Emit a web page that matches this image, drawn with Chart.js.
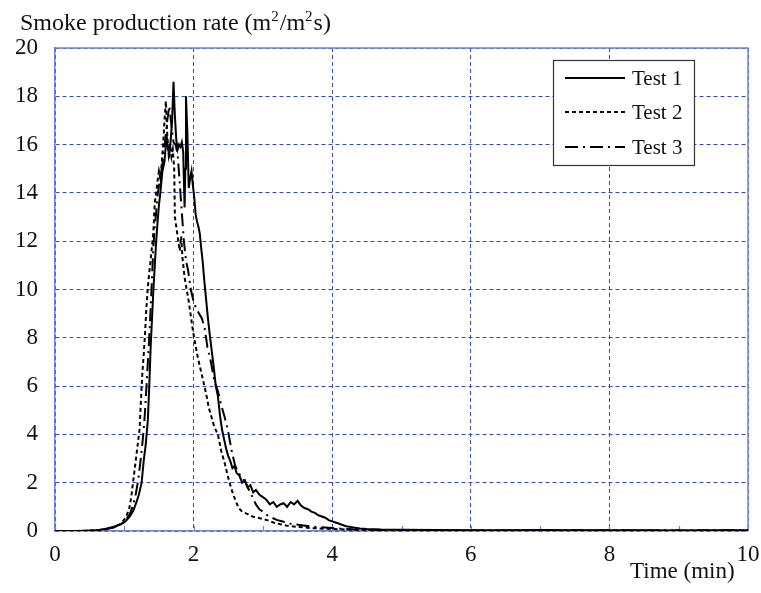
<!DOCTYPE html>
<html>
<head>
<meta charset="utf-8">
<script src="https://cdn.jsdelivr.net/npm/chart.js@4"></script>
<style>
  body { margin: 0; background: #fff; }
</style>
</head>
<body>
<canvas id="smokeChart" width="761" height="593"></canvas>
<script>
// [time (min), smoke production rate (m2/m2s)]
const test1 = [
  [0, 0], [0.3, 0], [0.55, 0.02], [0.65, 0.05], [0.75, 0.1], [0.85, 0.18], [0.95, 0.28],
  [1.02, 0.4], [1.08, 0.6], [1.13, 0.85], [1.17, 1.15], [1.21, 1.5], [1.25, 2.0], [1.28, 2.9],
  [1.31, 3.6], [1.34, 4.6], [1.36, 6.0], [1.38, 7.6], [1.40, 8.8], [1.42, 10.0], [1.44, 11.0],
  [1.46, 12.0], [1.48, 12.8], [1.50, 13.5], [1.52, 14.0], [1.55, 14.9], [1.58, 15.3], [1.61, 16.4],
  [1.63, 15.8], [1.65, 15.6], [1.67, 16.2], [1.69, 17.0], [1.71, 18.6], [1.73, 17.2], [1.75, 16.2],
  [1.77, 15.8], [1.79, 16.0], [1.81, 15.9], [1.83, 16.1], [1.85, 15.7], [1.87, 13.4], [1.88, 15.0],
  [1.89, 18.0], [1.91, 16.5], [1.93, 14.2], [1.95, 14.6], [1.97, 14.9], [1.99, 14.3], [2.01, 13.8],
  [2.03, 13.1], [2.05, 12.8], [2.07, 12.6], [2.09, 12.3], [2.11, 11.7], [2.13, 11.2], [2.15, 10.5],
  [2.17, 9.9], [2.20, 9.0], [2.23, 8.2], [2.26, 7.5], [2.29, 6.8], [2.32, 6.0], [2.35, 5.6],
  [2.38, 4.8], [2.41, 4.2], [2.44, 3.8], [2.47, 3.4], [2.50, 3.1], [2.53, 2.9], [2.56, 2.6],
  [2.59, 2.7], [2.62, 2.4], [2.66, 2.3], [2.70, 2.0], [2.74, 2.1], [2.78, 1.8], [2.82, 1.9],
  [2.86, 1.6], [2.90, 1.7], [2.95, 1.5], [3.00, 1.4], [3.05, 1.3], [3.10, 1.1], [3.15, 1.2],
  [3.20, 1.0], [3.25, 1.1], [3.30, 1.15], [3.35, 1.0], [3.40, 1.2], [3.45, 1.1], [3.50, 1.25],
  [3.55, 1.05], [3.60, 0.95], [3.65, 0.9], [3.70, 0.8], [3.75, 0.75], [3.80, 0.65], [3.85, 0.6],
  [3.90, 0.55], [3.95, 0.45], [4.00, 0.4], [4.05, 0.35], [4.10, 0.3], [4.15, 0.25], [4.20, 0.2],
  [4.30, 0.15], [4.40, 0.1], [4.50, 0.08], [4.70, 0.06], [5.0, 0.05], [5.5, 0.04], [6.0, 0.03],
  [6.5, 0.03], [7.0, 0.04], [7.5, 0.03], [8.0, 0.03], [8.5, 0.03], [9.0, 0.02], [9.5, 0.03], [10, 0.03]
];

const test2 = [
  [0, 0], [0.4, 0], [0.6, 0.03], [0.75, 0.08], [0.85, 0.15], [0.95, 0.3], [1.02, 0.55],
  [1.07, 0.9], [1.10, 1.4], [1.13, 2.1], [1.16, 2.8], [1.19, 3.5], [1.22, 4.2], [1.24, 5.4],
  [1.26, 6.5], [1.28, 7.3], [1.30, 8.2], [1.32, 9.3], [1.34, 10.1], [1.36, 10.7], [1.38, 11.2],
  [1.40, 11.8], [1.42, 12.4], [1.44, 13.6], [1.46, 14.0], [1.48, 14.5], [1.50, 14.9], [1.52, 14.6],
  [1.54, 15.2], [1.56, 16.0], [1.58, 17.0], [1.60, 17.8], [1.62, 16.4], [1.64, 15.6], [1.66, 16.0],
  [1.68, 15.5], [1.70, 15.8], [1.72, 15.0], [1.73, 13.0], [1.75, 12.6], [1.78, 12.0], [1.80, 11.6],
  [1.82, 12.2], [1.84, 11.3], [1.87, 10.5], [1.90, 10.0], [1.93, 9.5], [1.96, 8.9], [1.99, 8.3],
  [2.02, 7.8], [2.06, 7.2], [2.10, 6.7], [2.14, 6.2], [2.18, 5.7], [2.22, 5.1], [2.26, 4.7],
  [2.30, 4.3], [2.35, 4.0], [2.40, 3.3], [2.45, 2.8], [2.50, 2.2], [2.55, 1.7], [2.60, 1.3],
  [2.65, 0.95], [2.70, 0.8], [2.78, 0.7], [2.85, 0.6], [2.92, 0.55], [3.0, 0.5], [3.06, 0.45],
  [3.15, 0.35], [3.25, 0.28], [3.35, 0.22], [3.5, 0.17], [3.7, 0.12], [4.0, 0.08], [4.3, 0.05],
  [4.7, 0.03], [5.5, 0.02], [6.5, 0.02], [7.5, 0.02], [8.5, 0.02], [10, 0.02]
];

const test3 = [
  [0, 0], [0.4, 0], [0.6, 0.03], [0.75, 0.08], [0.85, 0.15], [0.95, 0.28], [1.02, 0.45],
  [1.08, 0.7], [1.13, 1.1], [1.17, 1.6], [1.20, 2.1], [1.23, 2.8], [1.26, 3.6], [1.28, 4.2],
  [1.30, 5.0], [1.32, 6.0], [1.34, 7.0], [1.36, 8.0], [1.38, 9.2], [1.40, 10.5], [1.42, 11.8],
  [1.44, 12.6], [1.46, 13.2], [1.48, 13.9], [1.50, 14.3], [1.53, 14.8], [1.56, 15.4], [1.59, 16.2],
  [1.62, 17.0], [1.65, 17.6], [1.68, 16.8], [1.71, 16.1], [1.74, 16.0], [1.77, 15.6], [1.80, 14.4],
  [1.83, 13.2], [1.86, 12.0], [1.89, 11.2], [1.92, 10.8], [1.96, 10.0], [2.00, 9.5], [2.04, 9.2],
  [2.08, 9.0], [2.12, 8.8], [2.16, 8.4], [2.20, 7.6], [2.25, 7.0], [2.30, 6.2], [2.35, 5.8],
  [2.40, 5.2], [2.45, 4.7], [2.50, 4.1], [2.55, 3.3], [2.60, 2.7], [2.65, 2.4], [2.70, 2.2],
  [2.75, 2.0], [2.80, 1.7], [2.85, 1.4], [2.90, 1.1], [2.95, 0.9], [3.0, 0.8], [3.06, 0.66],
  [3.13, 0.55], [3.2, 0.46], [3.3, 0.38], [3.4, 0.3], [3.53, 0.25], [3.7, 0.18], [4.0, 0.12],
  [4.3, 0.07], [4.7, 0.04], [5.5, 0.03], [6.5, 0.02], [7.5, 0.03], [8.5, 0.02], [10, 0.03]
];

const seriesNames = ['Test 1', 'Test 2', 'Test 3'];
const seriesDash = [[], [4, 3], [13, 5, 2, 5]];
const xTicks = [0, 2, 4, 6, 8, 10];
const yTicks = [0, 2, 4, 6, 8, 10, 12, 14, 16, 18, 20];

const FONT = '"Liberation Serif", "Times New Roman", serif';
const AXIS_BLUE = '#6f80e6';
const GRID_BLUE = '#3347e0';

function toPoints(arr) {
  return arr.map(p => ({ x: p[0], y: p[1] }));
}

// draws a run of text pieces, some of them as small raised superscripts
function drawRich(ctx, parts, x, y, size) {
  parts.forEach(([txt, sup]) => {
    ctx.font = (sup ? Math.round(size * 0.62) : size) + 'px ' + FONT;
    ctx.fillText(txt, x, sup ? y - size * 0.38 : y);
    x += ctx.measureText(txt).width + (sup ? 1 : 0);
  });
}

const extras = {
  id: 'extras',
  beforeDatasetsDraw(chart) {
    const { ctx, chartArea: a, scales: { x } } = chart;
    ctx.save();
    // solid top and right frame
    ctx.strokeStyle = AXIS_BLUE;
    ctx.lineWidth = 1.5;
    ctx.beginPath();
    ctx.moveTo(a.left, a.top);
    ctx.lineTo(a.right, a.top);
    ctx.lineTo(a.right, a.bottom);
    ctx.stroke();
    // small inward ticks on the time axis
    ctx.lineWidth = 1.2;
    for (let t = 0; t <= 10; t++) {
      const px = Math.round(x.getPixelForValue(t)) + 0.5;
      ctx.beginPath();
      ctx.moveTo(px, a.bottom);
      ctx.lineTo(px, a.bottom - 5);
      ctx.stroke();
    }
    ctx.restore();
  },
  afterDraw(chart) {
    const { ctx } = chart;
    ctx.save();
    ctx.fillStyle = '#111';
    ctx.textBaseline = 'alphabetic';
    ctx.textAlign = 'left';
    drawRich(ctx, [['Smoke production rate (m'], ['2', true], ['/m'], ['2', true], ['s)']], 20, 30, 24);
    ctx.font = '23px ' + FONT;
    ctx.fillText('Time (min)', 630, 578);

    // legend box
    const bx = 553, by = 60, bw = 141, bh = 105;
    ctx.fillStyle = '#fff';
    ctx.fillRect(bx, by, bw, bh);
    ctx.strokeStyle = '#333';
    ctx.lineWidth = 1.2;
    ctx.strokeRect(bx + 0.5, by + 0.5, bw, bh);
    const rows = [78, 112, 147];
    ctx.font = '21px ' + FONT;
    chart.data.datasets.forEach((ds, i) => {
      ctx.strokeStyle = '#000';
      ctx.lineWidth = 2.2;
      ctx.setLineDash(ds.borderDash || []);
      ctx.beginPath();
      ctx.moveTo(565, rows[i]);
      ctx.lineTo(625, rows[i]);
      ctx.stroke();
      ctx.setLineDash([]);
      ctx.fillStyle = '#111';
      ctx.textBaseline = 'middle';
      ctx.fillText(ds.label, 632, rows[i] + 1);
    });
    ctx.restore();
  }
};

const datasets = [test1, test2, test3].map((arr, i) => ({
  label: seriesNames[i],
  data: toPoints(arr),
  borderColor: '#000',
  borderWidth: 2,
  borderDash: seriesDash[i],
  pointRadius: 0,
  tension: 0,
  fill: false
}));

new Chart(document.getElementById('smokeChart').getContext('2d'), {
  type: 'line',
  data: { datasets: datasets },
  options: {
    responsive: false,
    animation: false,
    layout: { padding: { left: 0, right: 13, top: 48, bottom: 0 } },
    plugins: {
      legend: { display: false },
      tooltip: { enabled: false }
    },
    scales: {
      x: {
        type: 'linear',
        min: 0,
        max: 10,
        afterFit: s => { s.height = 62; s.paddingLeft = 0; s.paddingRight = 0; },
        afterBuildTicks: s => { s.ticks = xTicks.map(v => ({ value: v })); },
        grid: { color: GRID_BLUE, lineWidth: 1, drawTicks: false },
        border: { display: true, color: AXIS_BLUE, width: 1.5, dash: [4, 3] },
        ticks: { padding: 10, color: '#111', font: { family: FONT, size: 23 }, maxRotation: 0 }
      },
      y: {
        min: 0,
        max: 20,
        afterFit: s => { s.width = 55; s.paddingTop = 0; s.paddingBottom = 0; },
        afterBuildTicks: s => { s.ticks = yTicks.map(v => ({ value: v })); },
        grid: { color: GRID_BLUE, lineWidth: 1, drawTicks: false },
        border: { display: true, color: AXIS_BLUE, width: 1.5, dash: [4, 3] },
        ticks: { padding: 17, color: '#111', font: { family: FONT, size: 23 } }
      }
    }
  },
  plugins: [extras]
});
</script>
</body>
</html>
